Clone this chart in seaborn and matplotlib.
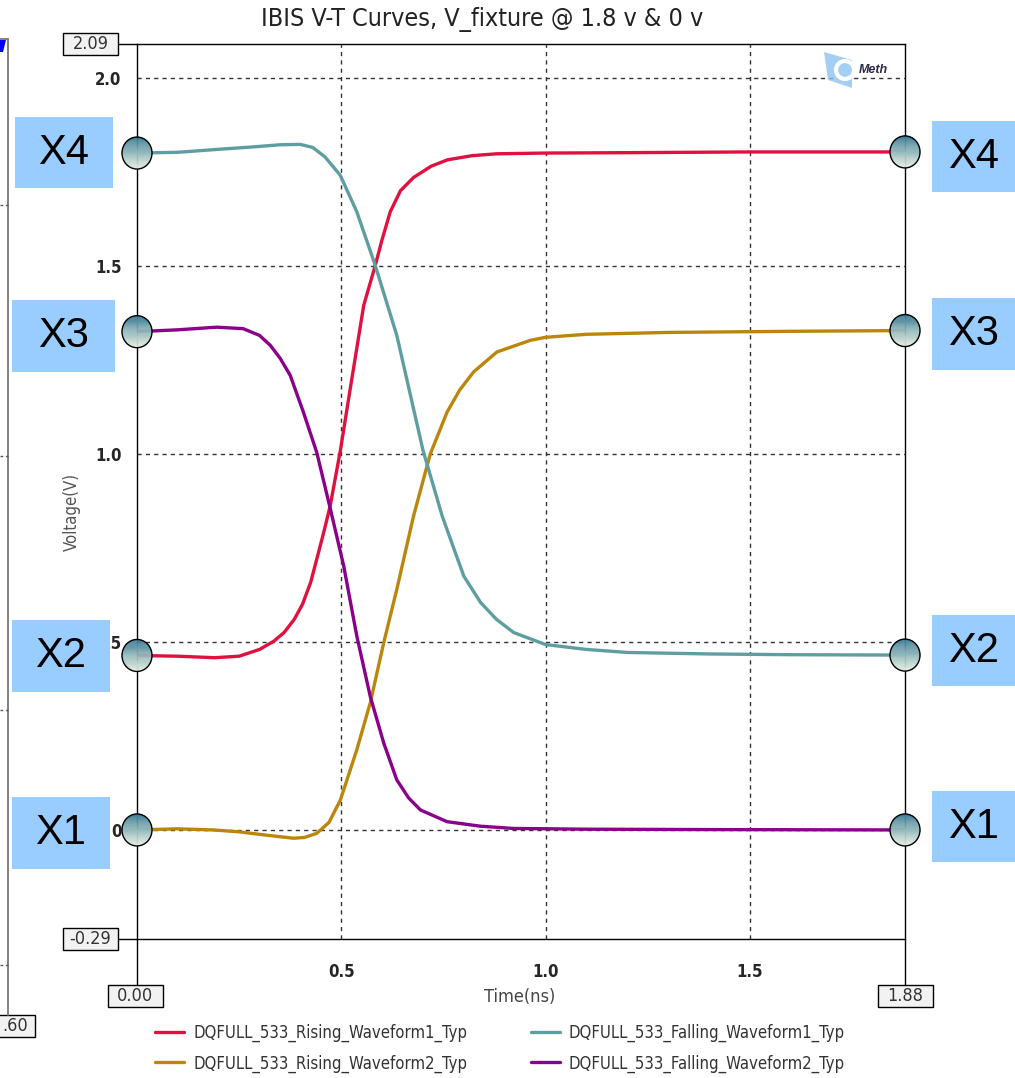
import numpy as np
import pandas as pd
import matplotlib.pyplot as plt
import seaborn as sns
from matplotlib.patches import Rectangle, Ellipse, Polygon
from matplotlib.lines import Line2D
from matplotlib.colors import LinearSegmentedColormap
from matplotlib import font_manager

# IBIS V-T waveforms (time in ns, voltage in V)
rise1_t = [0, 0.10, 0.19, 0.25, 0.30, 0.335, 0.36, 0.385, 0.405, 0.425, 0.44, 0.457, 0.473,
           0.498, 0.52, 0.555, 0.583, 0.60, 0.62, 0.645, 0.677, 0.72, 0.76, 0.82, 0.88, 1.0,
           1.2, 1.5, 1.88]
rise1_v = [0.464, 0.462, 0.458, 0.462, 0.48, 0.502, 0.525, 0.56, 0.60, 0.658, 0.72, 0.791, 0.862,
           1.01, 1.16, 1.395, 1.50, 1.57, 1.644, 1.70, 1.735, 1.765, 1.782, 1.793, 1.798, 1.80,
           1.801, 1.803, 1.803]

rise2_t = [0, 0.10, 0.186, 0.25, 0.31, 0.35, 0.383, 0.41, 0.44, 0.47, 0.498, 0.538, 0.571,
           0.604, 0.636, 0.677, 0.718, 0.759, 0.79, 0.824, 0.881, 0.963, 1.0, 1.1, 1.3, 1.6, 1.88]
rise2_v = [0.0, 0.003, 0.0, -0.005, -0.013, -0.018, -0.022, -0.02, -0.009, 0.02, 0.08, 0.213, 0.338,
           0.498, 0.64, 0.835, 1.0, 1.111, 1.17, 1.218, 1.271, 1.302, 1.31, 1.318, 1.323, 1.326, 1.328]

fall1_t = [0, 0.10, 0.20, 0.28, 0.35, 0.40, 0.43, 0.46, 0.4975, 0.538, 0.583, 0.636, 0.70,
           0.747, 0.78, 0.80, 0.841, 0.88, 0.922, 1.0, 1.1, 1.2, 1.4, 1.6, 1.88]
fall1_v = [1.80, 1.802, 1.81, 1.816, 1.822, 1.823, 1.815, 1.79, 1.741, 1.644, 1.502, 1.315, 1.01,
           0.835, 0.735, 0.675, 0.605, 0.56, 0.525, 0.493, 0.48, 0.472, 0.468, 0.466, 0.465]

fall2_t = [0, 0.10, 0.195, 0.26, 0.30, 0.326, 0.35, 0.375, 0.407, 0.44, 0.473, 0.506, 0.538,
           0.571, 0.604, 0.636, 0.665, 0.694, 0.759, 0.84, 0.922, 1.1, 1.4, 1.88]
fall2_v = [1.325, 1.33, 1.337, 1.333, 1.315, 1.289, 1.255, 1.209, 1.112, 1.004, 0.855, 0.702, 0.516,
           0.355, 0.231, 0.133, 0.085, 0.053, 0.022, 0.01, 0.004, 0.002, 0.001, 0.0]

series_names = ['DQFULL_533_Rising_Waveform1_Typ', 'DQFULL_533_Rising_Waveform2_Typ',
                'DQFULL_533_Falling_Waveform1_Typ', 'DQFULL_533_Falling_Waveform2_Typ']
series_colors = ['#e0103f', '#bb860b', '#5f9ea0', '#8b008b']

level_labels = ['X1', 'X2', 'X3', 'X4']
y_ticks = [0, 0.5, 1.0, 1.5, 2.0]
y_ticklabels = ['0', '.5', '1.0', '1.5', '2.0']
x_ticks = [0.5, 1.0, 1.5]
x_ticklabels = ['0.5', '1.0', '1.5']
t_min, t_max = 0.0, 1.88
v_min, v_max = -0.29, 2.09

W, H = 1015, 1078
ARIAL = ['Liberation Sans', 'DejaVu Sans']
# narrow look like the original tool (Arial Narrow style)
NARROW = font_manager.FontProperties(family='DejaVu Sans', stretch='condensed')


def fx(x):
    return x / W


def fy(y):
    return 1 - y / H


def narrow(size, weight='normal'):
    fp = NARROW.copy()
    fp.set_size(size)
    fp.set_weight(weight)
    return fp


frames = []
for name, t, v in zip(series_names, [rise1_t, rise2_t, fall1_t, fall2_t],
                      [rise1_v, rise2_v, fall1_v, fall2_v]):
    frames.append(pd.DataFrame({'t': t, 'v': v, 'name': name}))
df = pd.concat(frames, ignore_index=True)

sns.set_theme(style='white')
plt.rcParams['font.family'] = ['DejaVu Sans']
plt.rcParams['font.stretch'] = 'condensed'

fig = plt.figure(figsize=(W / 100, H / 100), dpi=100)
ax = fig.add_axes([fx(137), fy(939), (905 - 137) / W, (939 - 44) / H])

sns.lineplot(data=df, x='t', y='v', hue='name', hue_order=series_names,
             palette=series_colors, estimator=None, sort=False, lw=2.4, ax=ax, legend=False)

# gradient beads at both ends of every waveform (drawn as horizontal bands)
px_per_ns = (905 - 137) / (t_max - t_min)
px_per_v = (939 - 44) / (v_max - v_min)
bead_cmap = LinearSegmentedColormap.from_list('bead', ['#3b7b95', '#93b9bc', '#e4ede0'])


def bead(t, v):
    a = 15 / px_per_ns
    b = 16 / px_per_v
    n = 30
    edges = np.linspace(b, -b, n + 1)
    for k in range(n):
        ys = np.linspace(edges[k], edges[k + 1], 6)
        hw = a * np.sqrt(np.clip(1 - (ys / b) ** 2, 0, 1))
        xs = np.concatenate([t - hw, (t + hw)[::-1]])
        yy = np.concatenate([v + ys, (v + ys)[::-1]])
        ax.fill(xs, yy, color=bead_cmap(k / (n - 1)), lw=0.3, ec=bead_cmap(k / (n - 1)),
                zorder=6, clip_on=False)
    ax.add_patch(Ellipse((t, v), 2 * a, 2 * b, facecolor='none', edgecolor='black', lw=1.0,
                         zorder=7, clip_on=False))


for t, v in zip([rise1_t, rise2_t, fall1_t, fall2_t], [rise1_v, rise2_v, fall1_v, fall2_v]):
    bead(t[0], v[0])
    bead(t[-1], v[-1])

ax.set_xlim(t_min, t_max)
ax.set_ylim(v_min, v_max)
ax.set_xticks(x_ticks)
ax.set_xticklabels(x_ticklabels, fontproperties=narrow(12, 'bold'))
ax.set_yticks(y_ticks)
ax.set_yticklabels(y_ticklabels, fontproperties=narrow(12, 'bold'))
ax.tick_params(axis='x', length=0, pad=17)
ax.tick_params(axis='y', length=0, pad=11)
ax.set_xlabel('')
ax.set_ylabel('')
ax.grid(True, color='#333333', lw=1.0, linestyle=(0, (3, 3)))
for s in ax.spines.values():
    s.set_color('black')
    s.set_linewidth(1.0)

# spine extensions towards the limit boxes
for xs, ys in [([118, 137], [44, 44]), ([118, 137], [939, 939]),
               ([137, 137], [939, 985]), ([905, 905], [939, 985])]:
    fig.add_artist(Line2D([fx(x) for x in xs], [fy(y) for y in ys], color='black', lw=1.0))


def limbox(cx, cy, txt):
    fig.add_artist(Rectangle((fx(cx - 27.5), fy(cy + 11)), 55 / W, 22 / H, transform=fig.transFigure,
                             facecolor='#f2f2f2', edgecolor='black', lw=1.0))
    fig.text(fx(cx), fy(cy), txt, ha='center', va='center', fontproperties=narrow(13), color='#333333')


limbox(90.5, 44, '2.09')
limbox(90.5, 939, '-0.29')
limbox(135.5, 996, '0.00')
limbox(905, 996, '1.88')

fig.text(fx(482), fy(19), 'IBIS V-T Curves, V_fixture @ 1.8 v & 0 v', ha='center', va='center',
         fontproperties=narrow(18), color='#222222')
fig.text(fx(72), fy(512), 'Voltage(V)', ha='center', va='center', rotation=90,
         fontproperties=narrow(12), color='#555555')
fig.text(fx(520), fy(997), 'Time(ns)', ha='center', va='center', fontproperties=narrow(13),
         color='#444444')

# logo in the corner
fig.add_artist(Polygon([(fx(824), fy(52)), (fx(852), fy(60)), (fx(852), fy(88)), (fx(828), fy(80))],
                       closed=True, transform=fig.transFigure, facecolor='#8fc3ef', edgecolor='none',
                       alpha=0.8))
fig.add_artist(Ellipse((fx(845), fy(70)), 18 / W, 18 / H, transform=fig.transFigure,
                       facecolor='none', edgecolor='white', lw=3))
fig.text(fx(873), fy(70), 'Meth', ha='center', va='center', fontsize=9, fontweight='bold',
         fontstyle='italic', color='#2a2a4a', family=ARIAL)

# X level tags
left_tags = [(12, 797, 110, 869), (12, 620, 110, 692), (12, 300, 115, 372), (15, 117, 113, 188)]
right_tags = [(932, 791, 1015, 862), (932, 615, 1015, 686), (932, 298, 1015, 370), (932, 121, 1015, 192)]
for lab, box in zip(level_labels * 2, left_tags + right_tags):
    x0, y0, x1, y1 = box
    fig.add_artist(Rectangle((fx(x0), fy(y1)), (x1 - x0) / W, (y1 - y0) / H, transform=fig.transFigure,
                             facecolor='#99ccff', edgecolor='none'))
    fig.text(fx((x0 + x1) / 2), fy((y0 + y1) / 2), lab, ha='center', va='center', fontsize=30,
             color='black', family=ARIAL)

# partial neighbouring chart at the left edge
fig.add_artist(Line2D([fx(8), fx(8)], [fy(39), fy(1015)], color='#777777', lw=1.3))
fig.add_artist(Line2D([fx(0), fx(8)], [fy(39), fy(39)], color='#777777', lw=1.3))
fig.add_artist(Polygon([(fx(0), fy(40)), (fx(6), fy(40)), (fx(3), fy(52)), (fx(0), fy(52))],
                       closed=True, transform=fig.transFigure, facecolor='blue', edgecolor='none'))
for yy in [205, 456, 710, 965]:
    fig.add_artist(Line2D([fx(0), fx(8)], [fy(yy), fy(yy)], color='#555555', lw=1.0,
                          linestyle=(0, (2, 2))))
fig.add_artist(Rectangle((fx(-20), fy(1037)), 55 / W, 22 / H, transform=fig.transFigure,
                         facecolor='#f2f2f2', edgecolor='black', lw=1.0))
fig.text(fx(2), fy(1026), '.60', ha='left', va='center', fontproperties=narrow(13), color='#333333')

handles = ax.get_lines()[:4]
fig.legend(handles, series_names, loc='upper left', bbox_to_anchor=(fx(155), fy(1024)), ncol=2,
           frameon=False, prop=narrow(12), handlelength=1.75, handletextpad=0.55, columnspacing=3.8,
           labelspacing=0.72, borderaxespad=0, borderpad=0, labelcolor='#333333')

fig.savefig('out.png', dpi=100)
